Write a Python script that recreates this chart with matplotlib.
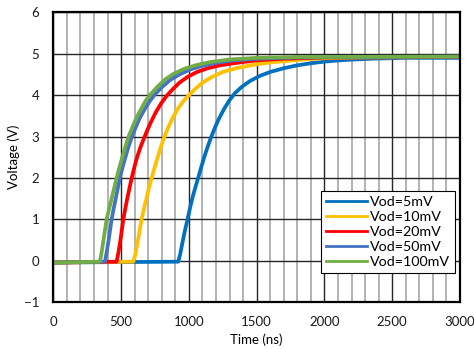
import matplotlib
matplotlib.use("Agg")
from matplotlib import pyplot as plt
from matplotlib.ticker import MultipleLocator

plt.rcParams['font.family'] = ['Lato', 'DejaVu Sans']

# Kurvene, lest av bildet (tid i ns, spenning i V)
t_5mv = [0, 921, 935, 950, 970, 990, 1010, 1030, 1050, 1068, 1090, 1110, 1135, 1160, 1190, 1220,
         1260, 1300, 1340, 1390, 1450, 1520, 1600, 1700, 1800, 1900, 2000, 2150, 2350, 2600, 3000]
v_5mv = [-0.04, -0.02, 0.15, 0.4, 0.72, 1.0, 1.3, 1.57, 1.8, 2.0, 2.25, 2.47, 2.72, 2.95, 3.2, 3.42,
         3.67, 3.88, 4.05, 4.2, 4.34, 4.46, 4.56, 4.65, 4.72, 4.77, 4.81, 4.85, 4.88, 4.9, 4.9]

t_10mv = [0, 590, 605, 620, 636, 651, 670, 690, 708, 725, 745, 765, 790, 816, 845, 880, 920, 960,
          1000, 1050, 1100, 1170, 1250, 1350, 1470, 1600, 1800, 2000, 2300, 3000]
v_10mv = [-0.04, -0.02, 0.15, 0.42, 0.72, 1.0, 1.28, 1.55, 1.8, 2.0, 2.23, 2.45, 2.72, 2.97, 3.2,
          3.45, 3.68, 3.86, 4.0, 4.16, 4.3, 4.44, 4.56, 4.65, 4.73, 4.79, 4.85, 4.89, 4.91, 4.92]

t_20mv = [0, 467, 480, 495, 516, 530, 545, 562, 578, 597, 615, 640, 665, 690, 720, 755, 795, 835,
          880, 930, 990, 1060, 1140, 1230, 1330, 1500, 1700, 2000, 3000]
v_20mv = [-0.04, -0.02, 0.2, 0.5, 1.0, 1.25, 1.5, 1.76, 2.0, 2.25, 2.47, 2.72, 2.93, 3.13, 3.35,
          3.58, 3.8, 3.98, 4.14, 4.3, 4.44, 4.56, 4.65, 4.72, 4.77, 4.84, 4.88, 4.91, 4.92]

t_50mv = [0, 381, 393, 408, 430, 445, 460, 476, 491, 510, 528, 553, 578, 605, 635, 670, 710, 750,
          800, 860, 930, 1010, 1100, 1200, 1330, 1500, 1800, 3000]
v_50mv = [-0.04, -0.02, 0.2, 0.5, 1.0, 1.26, 1.5, 1.76, 2.0, 2.25, 2.46, 2.74, 2.98, 3.2, 3.43,
          3.64, 3.85, 4.02, 4.19, 4.36, 4.5, 4.62, 4.71, 4.78, 4.84, 4.88, 4.91, 4.93]

t_100mv = [0, 344, 356, 370, 393, 411, 430, 449, 467, 486, 504, 528, 553, 580, 610, 645, 680, 720,
           770, 825, 890, 970, 1060, 1160, 1300, 1500, 1800, 3000]
v_100mv = [-0.04, -0.02, 0.2, 0.5, 1.0, 1.25, 1.5, 1.76, 2.0, 2.24, 2.45, 2.72, 2.98, 3.2, 3.43,
           3.65, 3.86, 4.03, 4.21, 4.38, 4.52, 4.64, 4.73, 4.8, 4.86, 4.9, 4.92, 4.93]

labels = ["Vod=5mV", "Vod=10mV", "Vod=20mV", "Vod=50mV", "Vod=100mV"]
farger = ["#0070C0", "#FFC000", "#FF0000", "#4472C4", "#70AD47"]
serier = [(t_5mv, v_5mv), (t_10mv, v_10mv), (t_20mv, v_20mv),
          (t_50mv, v_50mv), (t_100mv, v_100mv)]

fig = plt.figure(figsize=(4.74, 3.49), dpi=100)
ax = fig.add_axes([0.1125, 0.1338, 0.8580, 0.8310])

for (t, v), farge, lab in zip(serier, farger, labels):
    ax.plot(t, v, color=farge, lw=2.7, label=lab, solid_joinstyle='round')

ax.set_xlim(0, 3000)
ax.set_ylim(-1, 6)
ax.xaxis.set_major_locator(MultipleLocator(500))
ax.xaxis.set_minor_locator(MultipleLocator(100))
ax.yaxis.set_major_locator(MultipleLocator(1))

# Rutenett
ax.grid(True, which='minor', axis='x', color='#A6A6A6', lw=1.2, zorder=0)
ax.grid(True, which='major', axis='x', color='#262626', lw=1.0, zorder=0)
ax.grid(True, which='major', axis='y', color='#262626', lw=1.0, zorder=0)
ax.set_axisbelow(True)

ax.tick_params(which='both', length=0, labelsize=9.5, colors='#1a1a1a')
ax.tick_params(axis='x', pad=10)
ax.tick_params(axis='y', pad=10)

for s in ax.spines.values():
    s.set_linewidth(1.6)
    s.set_color('black')

ax.set_xlabel("Time (ns)", fontsize=9.5, labelpad=4)
ax.set_ylabel("Voltage (V)", fontsize=9.5, labelpad=3)

leg = ax.legend(loc='lower right', bbox_to_anchor=(0.988, 0.1), borderaxespad=0,
                fancybox=False, fontsize=10.3, handlelength=2.8, handletextpad=0.25,
                labelspacing=0.22, borderpad=0.35, framealpha=1)
leg.get_frame().set_edgecolor('black')
leg.get_frame().set_linewidth(0.8)
for h in leg.get_lines():
    h.set_linewidth(2.0)

fig.savefig("out.png", dpi=100)
